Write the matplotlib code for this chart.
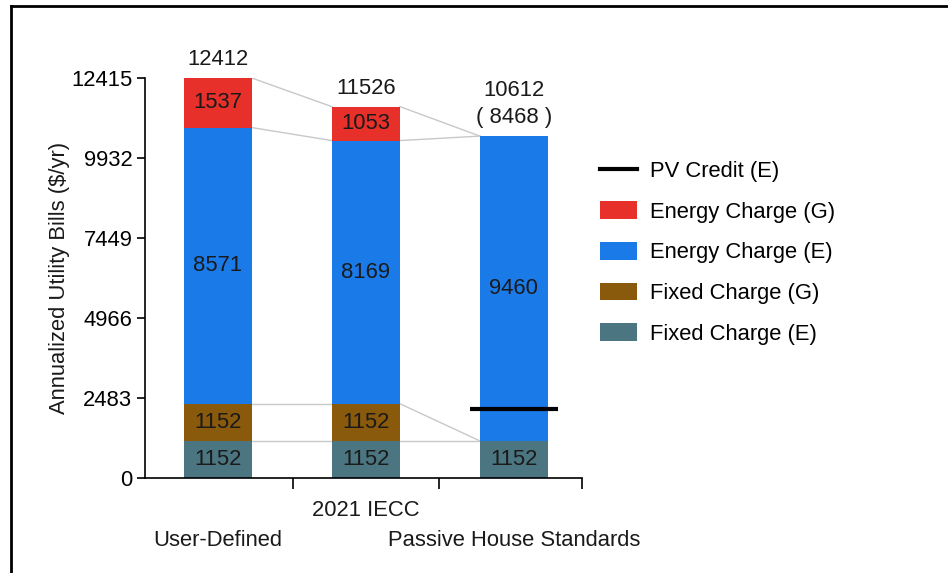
import matplotlib
matplotlib.use("Agg")
import matplotlib.pyplot as plt
import matplotlib.transforms as mtransforms
from matplotlib.lines import Line2D
from matplotlib.patches import Patch
import numpy as np

plt.rcParams['font.family'] = ['Liberation Sans Narrow', 'Liberation Sans', 'DejaVu Sans']

categories = ["User-Defined", "2021 IECC", "Passive House Standards"]
fixed_e = [1152, 1152, 1152]
fixed_g = [1152, 1152, 0]
energy_e = [8571, 8169, 9460]
energy_g = [1537, 1053, 0]
totals = [12412, 11526, 10612]
pv_credit = [0, 0, 2144]
net_totals = [None, None, 8468]
yticks = [0, 2483, 4966, 7449, 9932, 12415]

series = [
    ("Fixed Charge (E)", fixed_e, "#4b7580"),
    ("Fixed Charge (G)", fixed_g, "#8a5a0c"),
    ("Energy Charge (E)", energy_e, "#1a7ae8"),
    ("Energy Charge (G)", energy_g, "#e8302a"),
]

FS = 15.8
fig = plt.figure(figsize=(9.48, 5.73), dpi=100)
ax = fig.add_axes([145/948, 1-478/573, 437/948, 400/573])

x = np.arange(len(categories))
width = 0.46
bottoms = np.zeros(len(categories))
levels = [bottoms.copy()]
for name, vals, col in series:
    vals = np.array(vals, dtype=float)
    ax.bar(x, vals, width, bottom=bottoms, color=col, edgecolor='none', zorder=2)
    for i, v in enumerate(vals):
        if v > 0:
            ax.text(x[i], bottoms[i] + v/2, f"{int(v)}", ha='center', va='center',
                    fontsize=FS, color='#1a1a1a', zorder=4)
    bottoms = bottoms + vals
    levels.append(bottoms.copy())

# connector lines between adjacent bars
for lev in levels[1:]:
    for i in range(len(categories)-1):
        ax.plot([x[i] + width/2, x[i+1] - width/2], [lev[i], lev[i+1]],
                color='#c8c8c8', lw=1, zorder=1)

# top labels
for i, t in enumerate(totals):
    if net_totals[i] is None:
        ax.text(x[i], t + 250, f"{t}", ha='center', va='bottom', fontsize=FS, color='#1a1a1a')
    else:
        ax.text(x[i], t + 250, f"{t}\n( {net_totals[i]} )", ha='center', va='bottom',
                fontsize=FS, color='#1a1a1a', linespacing=1.35)

# PV credit line
for i, pv in enumerate(pv_credit):
    if pv > 0:
        ax.plot([x[i] - 0.30, x[i] + 0.30], [pv, pv], color='black', lw=3, zorder=5,
                solid_capstyle='butt')

ax.set_ylim(0, 12415)
ax.set_xlim(-0.493, 2.46)
ax.set_yticks(yticks)
ax.set_yticklabels([str(v) for v in yticks], fontsize=FS)
ax.set_xticks([0.507, 1.493, 2.46])
ax.set_xticklabels([])
ax.tick_params(axis='y', length=6, width=1.2, pad=3)
ax.tick_params(axis='x', length=8, width=1.2)
for s in ['top', 'right']:
    ax.spines[s].set_visible(False)
for s in ['left', 'bottom']:
    ax.spines[s].set_linewidth(1.2)
ax.text(-0.195, 0.5, "Annualized Utility Bills (\\$/yr)", transform=ax.transAxes,
        rotation=90, ha='center', va='center', fontsize=FS, color='#1a1a1a')

trans = mtransforms.blended_transform_factory(ax.transData, ax.transAxes)
label_y = [-0.155, -0.08, -0.155]
for i, c in enumerate(categories):
    ax.text(x[i], label_y[i], c, transform=trans, ha='center', va='center', fontsize=FS,
            color='#1a1a1a')

handles = [Line2D([0], [0], color='black', lw=3)]
labels = ["PV Credit (E)"]
for name, vals, col in reversed(series):
    handles.append(Patch(facecolor=col, edgecolor='none'))
    labels.append(name)
fig.legend(handles, labels, loc='upper left', bbox_to_anchor=(580/948, 1-141/573),
           frameon=False, fontsize=FS, handlelength=1.7, handleheight=0.85,
           labelspacing=0.88, handletextpad=0.6)

# frame lines (left and top)
fig.add_artist(Line2D([11/948, 11/948], [0, 1-6/573], color='black', lw=2, transform=fig.transFigure))
fig.add_artist(Line2D([11/948, 1], [1-6/573, 1-6/573], color='black', lw=2, transform=fig.transFigure))

fig.savefig("out.png", dpi=100)
